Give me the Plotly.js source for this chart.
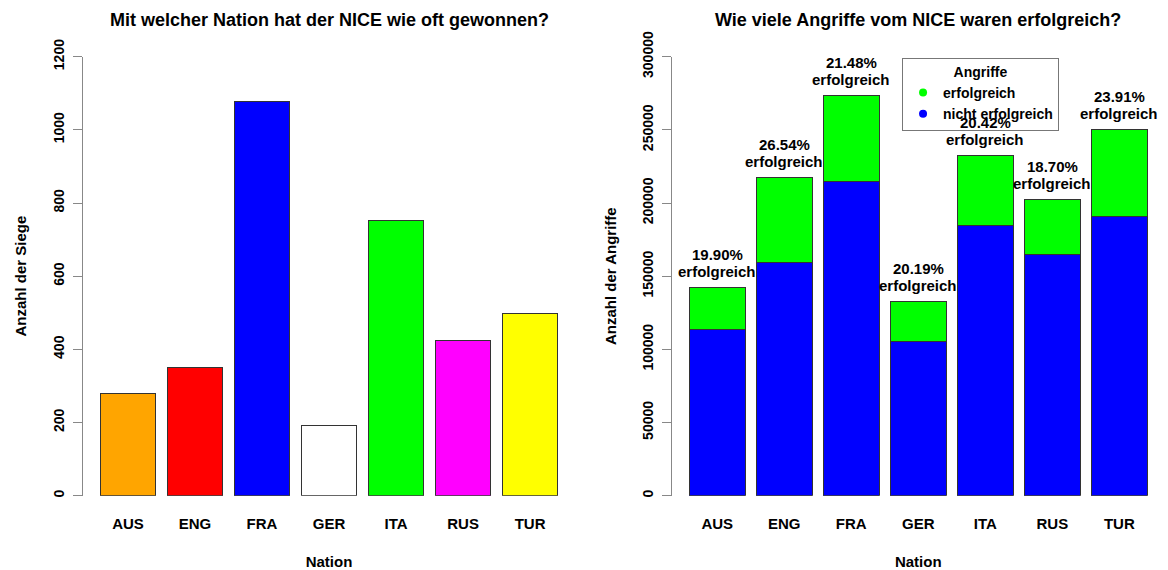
<!DOCTYPE html>
<html><head><meta charset="utf-8">
<script src="https://cdn.plot.ly/plotly-3.0.1.min.js"></script>
<style>html,body{margin:0;padding:0;background:#fff}#chart{width:1168px;height:570px}</style>
</head><body><div id="chart"></div>
<script>
const nations = ['AUS','ENG','FRA','GER','ITA','RUS','TUR'];
const siege = [280, 351, 1077, 191, 751, 423, 497];
const siegeColors = ['#FFA500','#FF0000','#0000FF','#FFFFFF','#00FF00','#FF00FF','#FFFF00'];
const erfolgreich = [28300, 57700, 58700, 26700, 47500, 37900, 59900];
const nichtErfolgreich = [113900, 159700, 214500, 105700, 184900, 164700, 190500];
const prozentLabels = ['19.90%','26.54%','21.48%','20.19%','20.42%','18.70%','23.91%'];
const siegeTicks = [0,200,400,600,800,1000,1200];
const angriffeTicks = [0,50000,100000,150000,200000,250000,300000];

const FONT = 'Liberation Sans, Arial, sans-serif';
const line = {color:'#333', width:1};

const totals = erfolgreich.map((v,i)=>v+nichtErfolgreich[i]);

const traces = [
  {type:'bar', x:nations, y:siege, marker:{color:siegeColors, line:line}, xaxis:'x', yaxis:'y', showlegend:false},
  {type:'bar', x:nations, y:nichtErfolgreich, name:'nicht erfolgreich', marker:{color:'#0000FF', line:line}, xaxis:'x2', yaxis:'y2', showlegend:false},
  {type:'bar', x:nations, y:erfolgreich, name:'erfolgreich', marker:{color:'#00FF00', line:line}, xaxis:'x2', yaxis:'y2', showlegend:false},
  {type:'scatter', mode:'markers', x:[null], y:[null], name:'erfolgreich', marker:{color:'#00FF00', size:8}, xaxis:'x2', yaxis:'y2'},
  {type:'scatter', mode:'markers', x:[null], y:[null], name:'nicht erfolgreich', marker:{color:'#0000FF', size:8}, xaxis:'x2', yaxis:'y2'}
];

const labFont = {family:FONT, size:15, color:'#000', weight:'bold'};
const annotations = [];
nations.forEach((n,i)=>{
  annotations.push({x:n, y:totals[i], xref:'x2', yref:'y2', text:prozentLabels[i],
    showarrow:false, yanchor:'middle', yshift:33, font:labFont});
  annotations.push({x:n, y:totals[i], xref:'x2', yref:'y2', text:'erfolgreich',
    showarrow:false, yanchor:'middle', yshift:16, font:labFont});
});

function xax(domain){
  return {domain:domain, range:[-0.676,6.676], type:'category', showline:false, ticks:'', showgrid:false, zeroline:false,
    tickfont:{family:FONT, size:15, color:'#000', weight:'bold'}, ticklabelstandoff:17,
    title:{text:'Nation', font:{family:FONT, size:15, color:'#000', weight:'bold'}, standoff:28}, fixedrange:true};
}
function yax(domain, range, ticks, title){
  return {domain:domain, range:range, tickvals:ticks, ticktext:ticks.map(String), showline:true, linecolor:'#888', linewidth:1,
    ticks:'outside', ticklen:9, tickcolor:'#888', tickangle:-90, showgrid:false, zeroline:false,
    tickfont:{family:FONT, size:14, color:'#000', weight:'bold'}, ticklabelstandoff:3,
    title:{text:title, font:{family:FONT, size:15, color:'#000', weight:'bold'}, standoff:20}, fixedrange:true};
}

const layout = {
  width:1168, height:570, margin:{l:0,r:0,t:0,b:0}, paper_bgcolor:'#fff', plot_bgcolor:'#fff',
  barmode:'stack', bargap:0.1667, showlegend:true,
  xaxis: xax([0.0708,0.4926]),
  yaxis: yax([0.1304,0.9005],[0,1200],siegeTicks,'Anzahl der Siege'),
  xaxis2: Object.assign(xax([0.5753,0.9971]),{anchor:'y2'}),
  yaxis2: Object.assign(yax([0.1304,0.9005],[0,300000],angriffeTicks,'Anzahl der Angriffe'),{anchor:'x2'}),
  legend:{x:0.7723, y:0.8988, xanchor:'left', yanchor:'top', bordercolor:'#777', borderwidth:1, bgcolor:'#fff',
    traceorder:'normal',
    title:{text:'Angriffe', side:'top center', font:{family:FONT, size:14, color:'#000', weight:'bold'}},
    font:{family:FONT, size:14, color:'#000', weight:'bold'}, itemwidth:30, tracegroupgap:0},
  annotations: annotations.concat([
    {text:'Mit welcher Nation hat der NICE wie oft gewonnen?', xref:'paper', yref:'paper', x:0.2817, y:1-20/570, xanchor:'center', yanchor:'middle', showarrow:false,
     font:{family:FONT, size:18, color:'#000', weight:'bold'}},
    {text:'Wie viele Angriffe vom NICE waren erfolgreich?', xref:'paper', yref:'paper', x:0.7862, y:1-20/570, xanchor:'center', yanchor:'middle', showarrow:false,
     font:{family:FONT, size:18, color:'#000', weight:'bold'}}
  ])
};

Plotly.newPlot('chart', traces, layout, {displayModeBar:false, staticPlot:true});
</script></body></html>
